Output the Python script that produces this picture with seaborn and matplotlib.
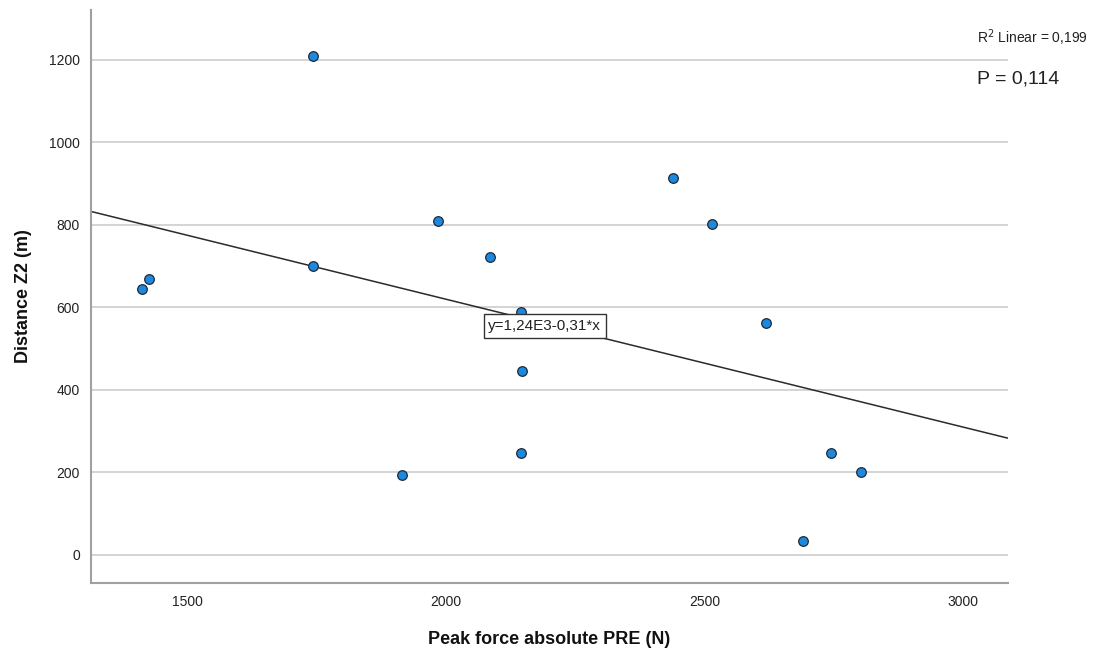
import numpy as np
import pandas as pd
import matplotlib
matplotlib.use("Agg")
import matplotlib.pyplot as plt
import seaborn as sns

# Peak force (N) and distance in zone 2 (m) per participant
peak_force = [1413, 1426, 1743, 1743, 1915, 1985, 2085, 2145, 2147, 2145,
              2439, 2514, 2619, 2744, 2802, 2690]
distance_z2 = [645, 669, 1210, 701, 194, 810, 722, 590, 446, 247,
               914, 802, 562, 247, 201, 34]

# Linear fit coefficients as reported
intercept = 1240.0
slope = -0.31
r2_text = "R$^2$ Linear = 0,199"
p_text = "P = 0,114"
eq_text = "y=1,24E3-0,31*x"

x_ticks = [1500, 2000, 2500, 3000]
y_ticks = [0, 200, 400, 600, 800, 1000, 1200]
x_lim = (1314, 3087)
y_lim = (-68, 1321)

df = pd.DataFrame({"Peak force absolute PRE (N)": peak_force,
                   "Distance Z2 (m)": distance_z2})

sns.set_theme(style="white")
plt.rcParams["font.family"] = ["Liberation Sans", "DejaVu Sans"]

fig = plt.figure(figsize=(10.98, 6.54), dpi=100)
ax = fig.add_axes([91 / 1098, 71 / 654, (1008 - 91) / 1098, (583 - 10) / 654])

ax.set_xlim(*x_lim)
ax.set_ylim(*y_lim)
ax.set_yticks(y_ticks)
ax.set_xticks(x_ticks)
ax.yaxis.grid(True, color="#d4d4d4", linewidth=1.4)
ax.xaxis.grid(False)
ax.set_axisbelow(True)

# regression line across the full x range
line_x = np.array(x_lim, dtype=float)
line_df = pd.DataFrame({"x": line_x, "y": intercept + slope * line_x})
sns.lineplot(data=line_df, x="x", y="y", ax=ax, color="#2b2b2b", linewidth=1.1, zorder=2)

sns.scatterplot(data=df, x="Peak force absolute PRE (N)", y="Distance Z2 (m)", ax=ax,
                s=48, color="#1e88dc", edgecolor="#1f2a36", linewidth=0.9, zorder=3)

ax.text(2082, 555, eq_text, ha="left", va="center", fontsize=11, color="#222222",
        bbox=dict(boxstyle="square,pad=0.3", facecolor="white", edgecolor="#333333",
                  linewidth=1.0), zorder=4)

for side in ["top", "right"]:
    ax.spines[side].set_visible(False)
for side in ["left", "bottom"]:
    ax.spines[side].set_color("#a0a0a0")
    ax.spines[side].set_linewidth(1.5)

ax.tick_params(axis="x", length=0, labelsize=10, colors="#222222", pad=8.5)
ax.tick_params(axis="y", length=0, labelsize=10, colors="#222222", pad=8)
ax.set_xlabel("Peak force absolute PRE (N)", fontsize=13, fontweight="bold",
              color="#111111", labelpad=16)
ax.set_ylabel("Distance Z2 (m)", fontsize=13, fontweight="bold",
              color="#111111", labelpad=12)

fig.text(977 / 1098, 1 - 38 / 654, r2_text, fontsize=10, color="#222222",
         ha="left", va="center")
fig.text(977 / 1098, 1 - 79 / 654, p_text, fontsize=14, color="#222222",
         ha="left", va="center")

fig.savefig("out.png", dpi=100, facecolor="white")
